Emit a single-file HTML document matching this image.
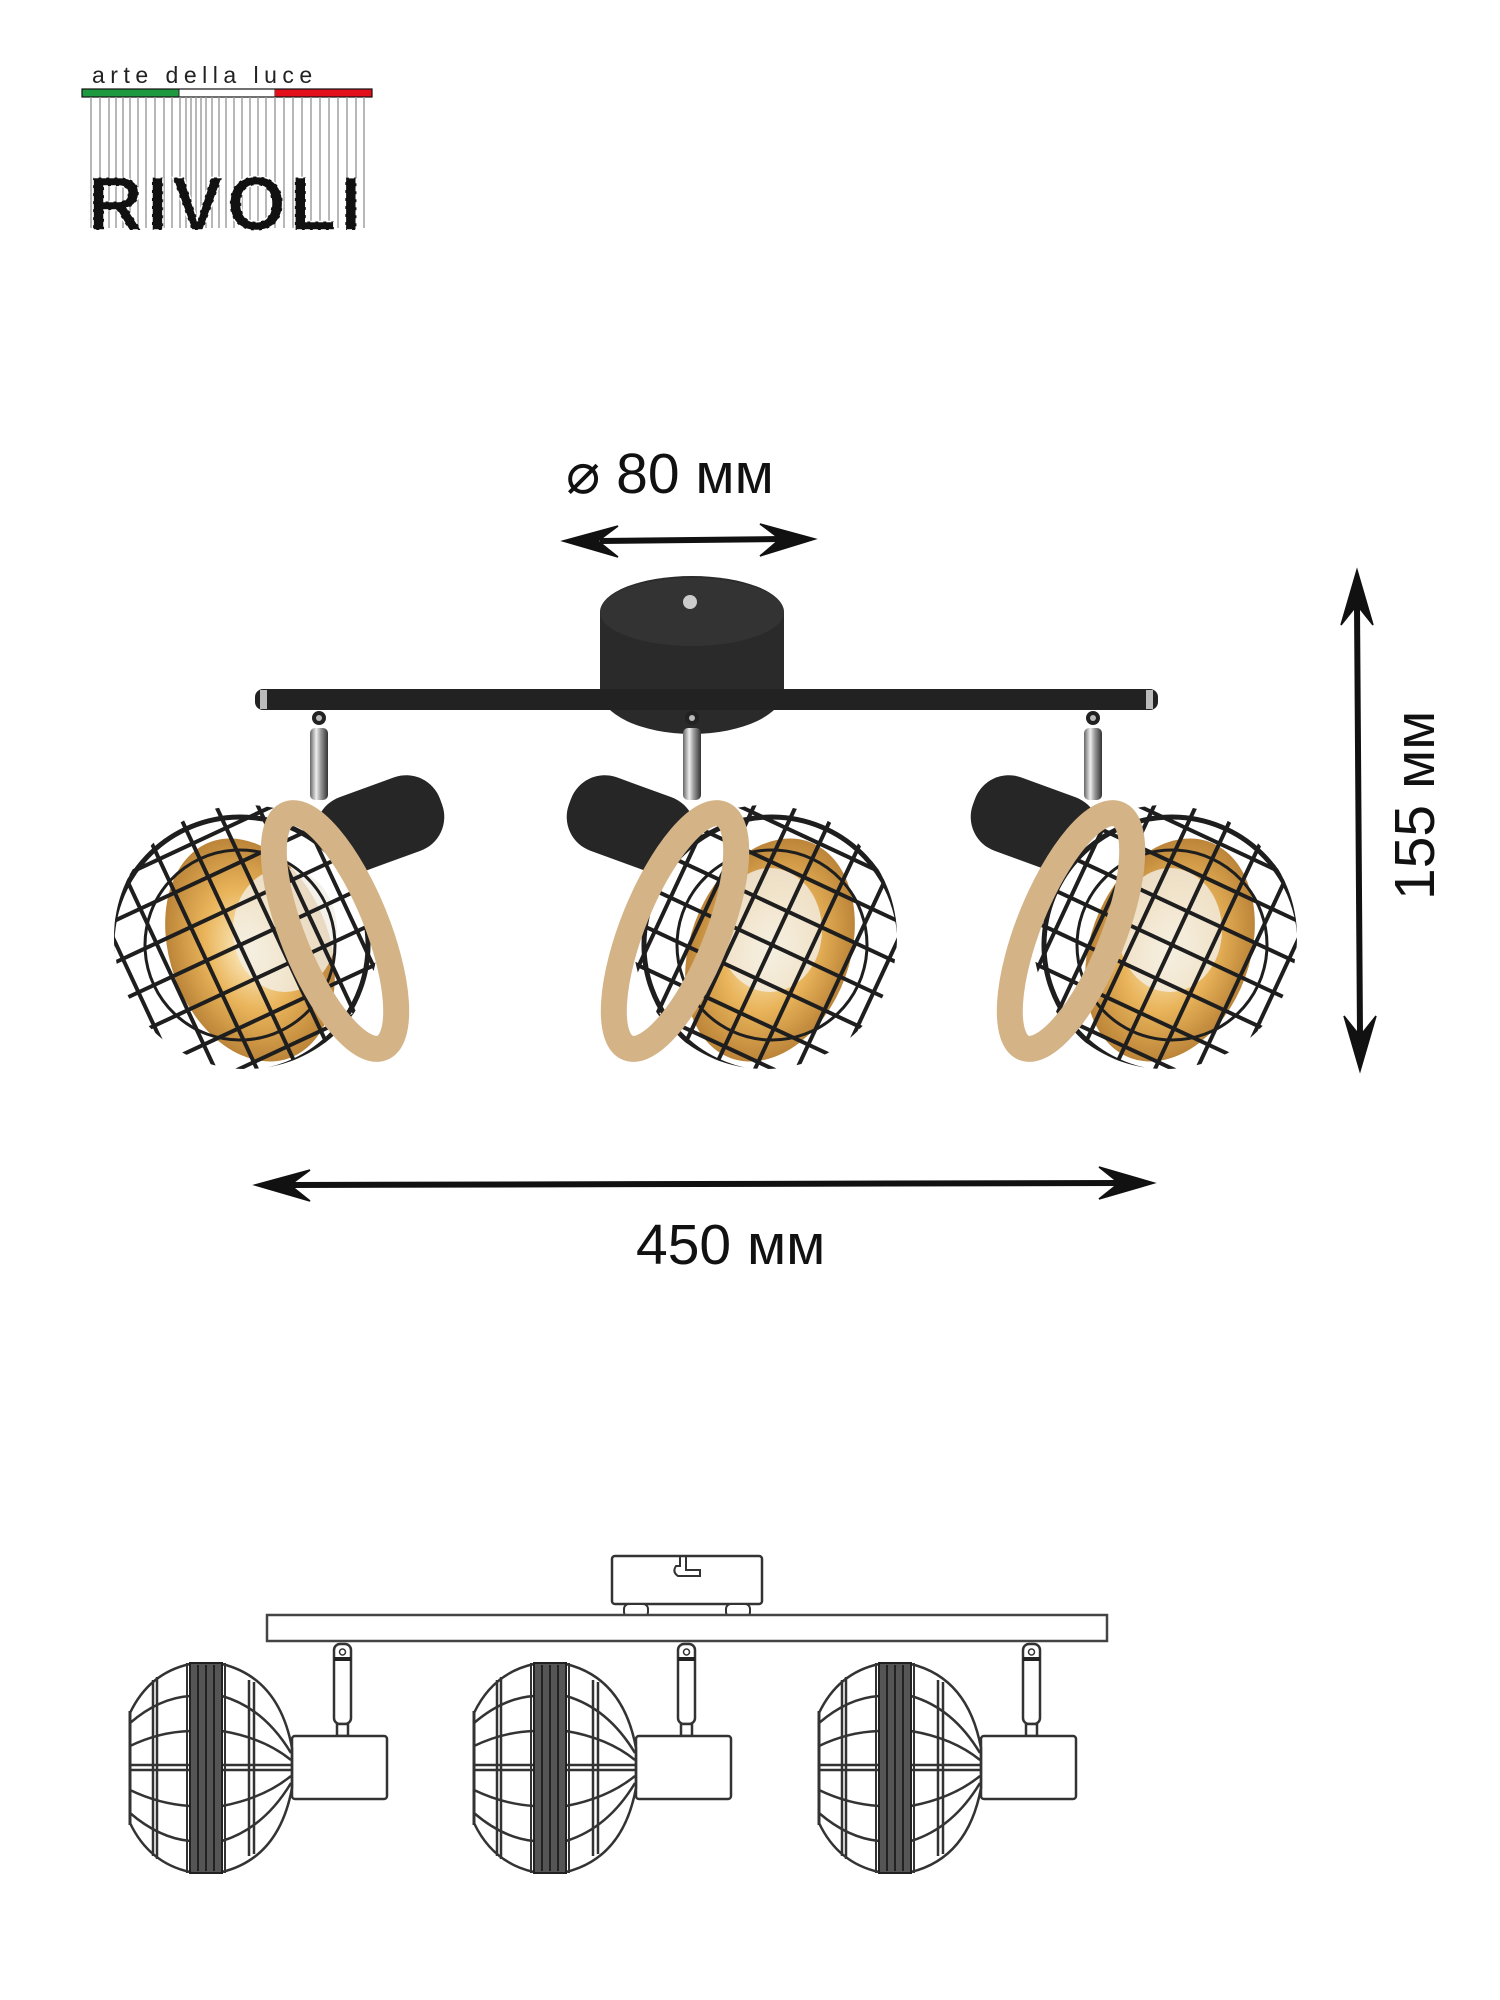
<!DOCTYPE html>
<html><head><meta charset="utf-8"><style>
html,body{margin:0;padding:0;background:#fff;}
svg{display:block;}
text{font-family:"Liberation Sans","DejaVu Sans",sans-serif;}
</style></head><body>
<svg width="1500" height="2000" viewBox="0 0 1500 2000" xmlns="http://www.w3.org/2000/svg">
<defs>
  <linearGradient id="chrome" x1="0" x2="1" y1="0" y2="0">
    <stop offset="0" stop-color="#666"/><stop offset="0.35" stop-color="#eee"/><stop offset="0.6" stop-color="#999"/><stop offset="1" stop-color="#333"/>
  </linearGradient>
  <radialGradient id="amber" cx="0.5" cy="0.5" r="0.6">
    <stop offset="0" stop-color="#fff3d0"/><stop offset="0.45" stop-color="#e9b45a"/><stop offset="1" stop-color="#a8702a"/>
  </radialGradient>
  <clipPath id="c1"><circle cx="246" cy="937" r="132"/></clipPath>
  <clipPath id="c2"><circle cx="765" cy="937" r="132"/></clipPath>
  <clipPath id="c3"><circle cx="1165" cy="937" r="132"/></clipPath>
  <g id="grid">
    <g stroke="#1e1e1e" stroke-width="4" fill="none">
      <line x1="-150" y1="-112" x2="150" y2="-112"/><line x1="-150" y1="-75" x2="150" y2="-75"/><line x1="-150" y1="-37" x2="150" y2="-37"/><line x1="-150" y1="0" x2="150" y2="0"/><line x1="-150" y1="37" x2="150" y2="37"/><line x1="-150" y1="75" x2="150" y2="75"/><line x1="-150" y1="112" x2="150" y2="112"/>
      <line y1="-150" x1="-112" y2="150" x2="-112"/><line y1="-150" x1="-75" y2="150" x2="-75"/><line y1="-150" x1="-37" y2="150" x2="-37"/><line y1="-150" x1="0" y2="150" x2="0"/><line y1="-150" x1="37" y2="150" x2="37"/><line y1="-150" x1="75" y2="150" x2="75"/><line y1="-150" x1="112" y2="150" x2="112"/>
      <circle r="128" stroke-width="5"/><circle r="95" stroke-width="3"/>
    </g>
  </g>
  <g id="lhead" fill="none" stroke="#333" stroke-width="2.5">
    <!-- stem -->
    <rect x="205" y="-124" width="17" height="80" rx="6" fill="#fff"/>
    <line x1="205" y1="-109" x2="222" y2="-109" stroke="#222" stroke-width="4"/>
    <circle cx="213.5" cy="-116" r="3" stroke-width="1.5"/>
    <rect x="208" y="-44" width="11" height="12" fill="#fff"/>
    <!-- cylinder -->
    <rect x="163" y="-32" width="95" height="63" rx="3" fill="#fff"/>
    <!-- left cage -->
    <path d="M61 -104 Q 20 -95 1 -55 L 1 55 Q 20 95 61 104"/>
    <path d="M1 -57 L 1 57" stroke-width="3"/>
    <path d="M24 -88 L 24 88 M28 -91 L 28 91"/>
    <path d="M1 -45 Q 30 -70 61 -72 M1 -22 Q 30 -36 61 -37 M1 -3 L 61 -3 M1 2 L 61 2 M1 22 Q 30 36 61 38 M1 45 Q 30 70 61 73"/>
    <!-- right dome -->
    <path d="M93 -104 Q 150 -90 163 -20 L 163 20 Q 150 90 93 104"/>
    <path d="M120 -88 L 120 88 M125 -86 L 125 86"/>
    <path d="M93 -72 Q 135 -60 162 -15 M93 -37 Q 135 -30 162 -8 M93 -3 L 162 -3 M93 2 L 162 2 M93 38 Q 135 30 162 8 M93 73 Q 135 60 162 15"/>
    <!-- band -->
    <rect x="61" y="-105" width="32" height="210" fill="#555" stroke="#222" stroke-width="2"/>
    <path d="M69 -103 V103 M77 -103 V103 M85 -103 V103" stroke="#222" stroke-width="2"/>
    <path d="M58 -105 V105 M96 -105 V105" stroke-width="2"/>
  </g>
</defs>

<!-- LOGO -->
<text x="92" y="83" font-size="23" letter-spacing="5.5" fill="#222">arte  della  luce</text>
<rect x="82" y="89" width="97" height="8" fill="#1d9a3f"/>
<rect x="179" y="89" width="96" height="8" fill="#fff" stroke="#222" stroke-width="1"/>
<rect x="275" y="89" width="97" height="8" fill="#e3101b"/>
<rect x="82" y="89" width="290" height="8" fill="none" stroke="#111" stroke-width="1.2"/>
<g stroke="#999" stroke-width="1.4">
  <line x1="91" y1="97" x2="91" y2="228"/><line x1="100" y1="97" x2="100" y2="228"/><line x1="109" y1="97" x2="109" y2="228"/><line x1="116" y1="97" x2="116" y2="228"/><line x1="123" y1="97" x2="123" y2="228"/><line x1="130" y1="97" x2="130" y2="228"/><line x1="138" y1="97" x2="138" y2="228"/><line x1="146" y1="97" x2="146" y2="228"/><line x1="155" y1="97" x2="155" y2="228"/><line x1="164" y1="97" x2="164" y2="228"/><line x1="172" y1="97" x2="172" y2="228"/><line x1="180" y1="97" x2="180" y2="228"/><line x1="186" y1="97" x2="186" y2="228"/><line x1="191" y1="97" x2="191" y2="228"/><line x1="196" y1="97" x2="196" y2="228"/><line x1="201" y1="97" x2="201" y2="228"/><line x1="206" y1="97" x2="206" y2="228"/><line x1="212" y1="97" x2="212" y2="228"/><line x1="219" y1="97" x2="219" y2="228"/><line x1="226" y1="97" x2="226" y2="228"/><line x1="234" y1="97" x2="234" y2="228"/><line x1="242" y1="97" x2="242" y2="228"/><line x1="250" y1="97" x2="250" y2="228"/><line x1="258" y1="97" x2="258" y2="228"/><line x1="266" y1="97" x2="266" y2="228"/><line x1="275" y1="97" x2="275" y2="228"/><line x1="284" y1="97" x2="284" y2="228"/><line x1="293" y1="97" x2="293" y2="228"/><line x1="302" y1="97" x2="302" y2="228"/><line x1="311" y1="97" x2="311" y2="228"/><line x1="320" y1="97" x2="320" y2="228"/><line x1="329" y1="97" x2="329" y2="228"/><line x1="338" y1="97" x2="338" y2="228"/><line x1="347" y1="97" x2="347" y2="228"/><line x1="356" y1="97" x2="356" y2="228"/><line x1="364" y1="97" x2="364" y2="228"/>
</g>
<text x="88" y="230" font-family="Liberation Serif" font-size="76" font-weight="bold" letter-spacing="4" fill="#111" stroke="#fff" stroke-width="1.5" stroke-dasharray="5 3">RIVOLI</text>

<!-- DIMENSIONS -->
<text x="566" y="493" font-size="57" fill="#111">⌀ 80 мм</text>
<g fill="#111" stroke="#111">
  <line x1="600" y1="541" x2="780" y2="539" stroke-width="6"/>
  <path d="M563 541 L 618 526 L 598 541 L 618 557 Z" stroke-width="1.5"/>
  <path d="M815 539 L 760 524 L 780 539 L 760 556 Z" stroke-width="1.5"/>
  <line x1="290" y1="1185" x2="1120" y2="1183" stroke-width="6"/>
  <path d="M255 1185 L 310 1170 L 290 1185 L 310 1201 Z" stroke-width="1.5"/>
  <path d="M1154 1183 L 1099 1167 L 1119 1183 L 1099 1199 Z" stroke-width="1.5"/>
  <line x1="1357" y1="605" x2="1360" y2="1036" stroke-width="6"/>
  <path d="M1357 570 L 1341 625 L 1357 605 L 1373 625 Z" stroke-width="1.5"/>
  <path d="M1360 1071 L 1344 1016 L 1360 1036 L 1376 1016 Z" stroke-width="1.5"/>
</g>
<text x="636" y="1264" font-size="57" fill="#111">450 мм</text>
<text transform="translate(1434 900) rotate(-90)" font-size="57" fill="#111">155 мм</text>

<!-- PRODUCT PHOTO -->
<path d="M600 612 A 92 36 0 0 1 784 612 L 784 690 A 92 44 0 0 1 600 690 Z" fill="#2a2a2a"/>
<ellipse cx="692" cy="612" rx="92" ry="34" fill="#333"/>
<circle cx="690" cy="602" r="7" fill="#ccc"/>
<rect x="255" y="689" width="903" height="21" rx="8" fill="#222"/>
<rect x="260" y="690" width="7" height="19" fill="#bbb"/>
<rect x="1146" y="690" width="7" height="19" fill="#bbb"/>
<g>
  <rect x="310" y="728" width="18" height="72" rx="5" fill="url(#chrome)"/>
  <circle cx="319" cy="718" r="7" fill="#222"/><circle cx="319" cy="718" r="3" fill="#bbb"/>
  <rect x="683" y="728" width="18" height="72" rx="5" fill="url(#chrome)"/>
  <circle cx="692" cy="718" r="7" fill="#222"/><circle cx="692" cy="718" r="3" fill="#bbb"/>
  <rect x="1084" y="728" width="18" height="72" rx="5" fill="url(#chrome)"/>
  <circle cx="1093" cy="718" r="7" fill="#222"/><circle cx="1093" cy="718" r="3" fill="#bbb"/>
</g>
<rect x="315" y="785" width="130" height="78" rx="36" fill="#262626" transform="rotate(-20 380 824)"/>
<rect x="566" y="785" width="130" height="78" rx="36" fill="#262626" transform="rotate(20 631 824)"/>
<rect x="970" y="785" width="130" height="78" rx="36" fill="#262626" transform="rotate(20 1035 824)"/>
<g clip-path="url(#c1)">
  <circle cx="246" cy="937" r="132" fill="#fff"/>
  <ellipse cx="250" cy="950" rx="80" ry="115" fill="url(#amber)" transform="rotate(-20 250 950)"/>
  <ellipse cx="285" cy="930" rx="52" ry="62" fill="#f2efe6" opacity="0.8"/>
  <use href="#grid" transform="translate(240 945) rotate(-25)"/>
</g>
<ellipse cx="335" cy="931" rx="42" ry="126" fill="none" stroke="#d4b387" stroke-width="26" transform="rotate(-22 335 931)"/>
<g clip-path="url(#c2)">
  <circle cx="765" cy="937" r="132" fill="#fff"/>
  <ellipse cx="770" cy="950" rx="80" ry="115" fill="url(#amber)" transform="rotate(20 770 950)"/>
  <ellipse cx="770" cy="930" rx="52" ry="62" fill="#f2efe6" opacity="0.8"/>
  <use href="#grid" transform="translate(772 945) rotate(25)"/>
</g>
<ellipse cx="675" cy="931" rx="42" ry="126" fill="none" stroke="#d4b387" stroke-width="26" transform="rotate(22 675 931)"/>
<g clip-path="url(#c3)">
  <circle cx="1165" cy="937" r="132" fill="#fff"/>
  <ellipse cx="1170" cy="950" rx="80" ry="115" fill="url(#amber)" transform="rotate(20 1170 950)"/>
  <ellipse cx="1170" cy="930" rx="52" ry="62" fill="#f2efe6" opacity="0.8"/>
  <use href="#grid" transform="translate(1172 945) rotate(25)"/>
</g>
<ellipse cx="1071" cy="931" rx="42" ry="126" fill="none" stroke="#d4b387" stroke-width="26" transform="rotate(22 1071 931)"/>

<!-- LINE DRAWING -->
<rect x="612" y="1556" width="150" height="48" rx="3" fill="#fff" stroke="#333" stroke-width="2.5"/>
<path d="M680 1556 L 680 1566 L 676 1566 Q 672 1572 678 1576 L 700 1576 L 700 1570 L 686 1570 L 686 1556" fill="none" stroke="#333" stroke-width="2"/>
<rect x="624" y="1604" width="24" height="13" rx="5" fill="#fff" stroke="#333" stroke-width="2"/>
<rect x="726" y="1604" width="24" height="13" rx="5" fill="#fff" stroke="#333" stroke-width="2"/>
<rect x="267" y="1615" width="840" height="26" fill="#fff" stroke="#444" stroke-width="2.5"/>
<use href="#lhead" transform="translate(129 1768)"/>
<use href="#lhead" transform="translate(473 1768)"/>
<use href="#lhead" transform="translate(818 1768)"/>
</svg>
</body></html>
